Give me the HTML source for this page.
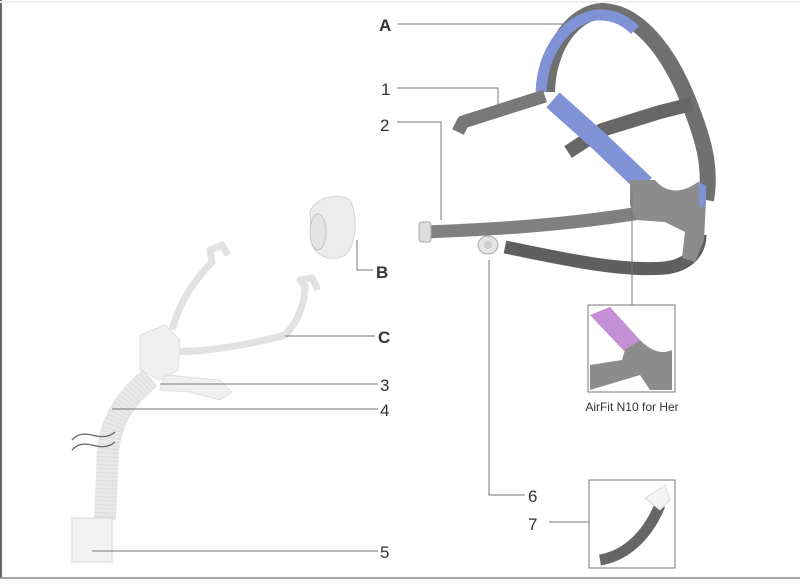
<!DOCTYPE html>
<html><head><meta charset="utf-8"><style>
html,body{margin:0;padding:0;background:#fff;}
svg{display:block}
text{font-family:"Liberation Sans",sans-serif;fill:#333;}
</style></head><body>
<svg width="800" height="583" viewBox="0 0 800 583" xmlns="http://www.w3.org/2000/svg">
<rect x="0" y="0" width="800" height="583" fill="#fff"/>
<line x1="1" y1="0" x2="1" y2="578" stroke="#666" stroke-width="2"/>
<line x1="0" y1="2" x2="800" y2="2" stroke="#eee" stroke-width="2"/>
<line x1="0" y1="578" x2="800" y2="578" stroke="#888" stroke-width="1.5"/>

<!-- Headgear -->
<g fill="none" stroke-linecap="butt" stroke-linejoin="round">
  <!-- crown outer gray -->
  <path d="M547 92 C548 45 575 12 602 11 C640 12 670 55 688 100 C702 135 712 165 706 200" stroke="#707070" stroke-width="16"/>
  <!-- crown blue -->
  <path d="M541 92 C543 50 566 20 596 15 C612 14 625 20 635 30" stroke="#7f93d6" stroke-width="11"/>
  <!-- strap 1 -->
  <path d="M458 132 L463 122 L545 96" stroke="#787878" stroke-width="13"/>
  <!-- upper right strap -->
  <path d="M568 152 L602 130 L660 112 L692 104" stroke="#676767" stroke-width="14"/>
  <!-- blue diagonal strap -->
  <path d="M553 100 L600 142 L645 185" stroke="#7f93d6" stroke-width="20"/>
  <!-- lower strap 2 -->
  <path d="M425 232 C480 230 560 226 640 213" stroke="#808080" stroke-width="13"/>
  <!-- lower strap 6 -->
  <path d="M505 247 C560 258 620 272 665 268 C690 265 700 250 700 235" stroke="#5f5f5f" stroke-width="13"/>
</g>
<!-- rear gray block -->
<path d="M630 180 L655 180 C665 192 680 195 698 182 L706 200 L704 240 L695 262 L682 258 L685 232 L665 222 L636 220 L630 205 Z" fill="#8c8c8c"/>
<path d="M698 182 L706 186 L706 205 L700 208 Z" fill="#7f93d6"/>
<rect x="419" y="222" width="12" height="20" rx="3" fill="#ddd" stroke="#aaa"/>
<ellipse cx="488" cy="245" rx="10" ry="9" fill="#e4e4e4" stroke="#aaa"/>
<circle cx="488" cy="245" r="4" fill="#ccc"/>

<!-- Cushion B -->
<path d="M310 212 C315 196 340 193 350 200 C358 215 357 245 345 255 C335 262 318 258 312 245 Z" fill="#ececec" stroke="#d4d4d4"/>
<ellipse cx="318" cy="232" rx="8" ry="18" fill="#e4e4e4" stroke="#c4c4c4"/>

<!-- Frame C -->
<g fill="none" stroke="#e2e2e2" stroke-width="7" stroke-linejoin="round">
  <path d="M172 330 C180 300 195 280 212 262 L210 250 L222 245 L228 255"/>
  <path d="M165 350 C190 355 250 345 285 335 C300 320 305 300 305 285 L300 280 L312 278 L318 290"/>
</g>
<path d="M140 335 L165 325 L180 340 L178 370 L160 380 L140 370 Z" fill="#f0f0f0" stroke="#e0e0e0"/>
<path d="M165 375 L220 380 L232 392 L220 400 L190 392 L160 390 Z" fill="#f0f0f0" stroke="#e0e0e0"/>
<!-- tube -->
<path d="M150 378 C130 395 112 415 108 450 L105 520" fill="none" stroke="#e8e8e8" stroke-width="22"/>
<path d="M150 378 C130 395 112 415 108 450 L105 520" fill="none" stroke="#d4d4d4" stroke-width="22" stroke-dasharray="1 3" opacity="0.6"/>
<rect x="72" y="518" width="40" height="44" fill="#f2f2f2" stroke="#d4d4d4"/>
<path d="M72 440 C85 425 100 445 115 432 M72 450 C85 435 100 455 115 442" fill="none" stroke="#666" stroke-width="1.3"/>

<!-- leader lines -->
<g stroke="#777" stroke-width="1" fill="none">
  <path d="M398 24 H565"/>
  <path d="M397 88 H498 V110"/>
  <path d="M397 122 H441 V220"/>
  <path d="M357 240 V270 H373"/>
  <path d="M285 336 H375"/>
  <path d="M160 384 H378"/>
  <path d="M112 409 H378"/>
  <path d="M92 551 H378"/>
  <path d="M489 260 V495 H525"/>
  <path d="M549 522 H589"/>
  <path d="M632 190 V305"/>
</g>

<!-- insets -->
<rect x="588" y="305" width="87" height="87" fill="#fff" stroke="#777"/>
<path d="M590 315 L610 307 L640 340 L625 352 Z" fill="#c58fd6"/>
<path d="M625 350 L640 340 C650 350 660 355 672 350 L672 390 L650 390 L640 375 L590 390 L590 365 L622 360 Z" fill="#8c8c8c"/>
<rect x="589" y="480" width="86" height="88" fill="#fff" stroke="#777"/>
<path d="M600 560 C630 555 650 530 660 505" fill="none" stroke="#666" stroke-width="11"/>
<path d="M645 498 L665 485 L670 500 L660 510 Z" fill="#f4f4f4" stroke="#ddd"/>

<!-- labels -->
<text x="379" y="31" font-size="17" font-weight="bold" fill="#222">A</text>
<text x="381" y="95" font-size="17">1</text>
<text x="380" y="131" font-size="17">2</text>
<text x="376" y="278" font-size="17" font-weight="bold" fill="#222">B</text>
<text x="378" y="343" font-size="17" font-weight="bold" fill="#222">C</text>
<text x="380" y="391" font-size="17">3</text>
<text x="380" y="416" font-size="17">4</text>
<text x="380" y="558" font-size="17">5</text>
<text x="528" y="502" font-size="17">6</text>
<text x="528" y="530" font-size="17">7</text>
<text x="632" y="411" font-size="12" text-anchor="middle" fill="#444">AirFit N10 for Her</text>
</svg>
</body></html>
